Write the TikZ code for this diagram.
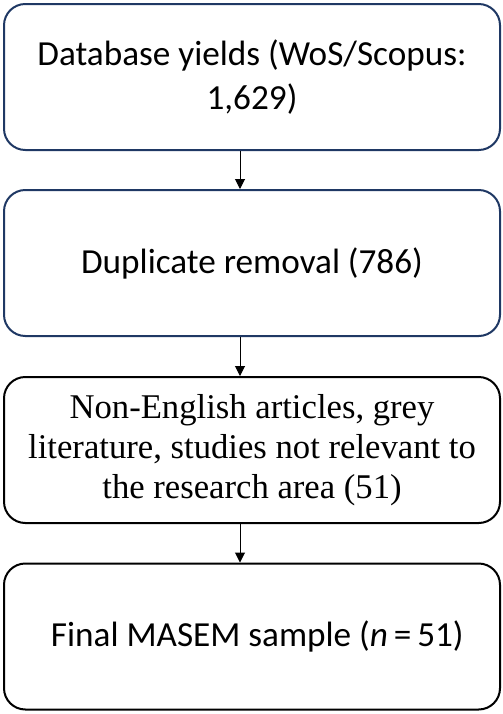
\documentclass[tikz,border=0pt]{standalone}
\usepackage{fontspec}
\setmainfont{Carlito}
\newfontfamily\timesfont{Liberation Serif}
\usepackage{xcolor}
\usetikzlibrary{arrows.meta}
\definecolor{boxnavy}{RGB}{31,56,100}
\tikzset{
  flowbox/.style={draw=#1, line width=1.5pt, rounded corners=16pt,
    minimum width=372pt, minimum height=109.5pt, align=center, inner sep=0pt,
    font=\fontsize{26.4}{32.5}\selectfont},
  flowbox/.default=black,
  flowarrow/.style={-{Triangle[length=7.5pt,width=7.5pt]}, line width=0.75pt}
}

\begin{document}
\begin{tikzpicture}[x=0.75pt,y=-0.75pt]
\useasboundingbox (0,0) rectangle (503,714);
\node[flowbox=boxnavy] (yield) at (252,77) {Database yields (WoS/Scopus:\\1,629)};
\node[flowbox=boxnavy] (dup) at (252,263) {Duplicate removal (786)};
\node[flowbox, font=\timesfont\fontsize{26}{30}\selectfont] (excl) at (252,450)
  {Non-English articles, grey\\literature, studies not relevant to\\the research area (51)};
\node[flowbox] (final) at (252,636.5) {\hspace{8pt}Final MASEM sample (\textit{n}\,=\,51)};
\draw[flowarrow] ([xshift=-9pt]yield.south) -- ([xshift=-9pt]dup.north);
\draw[flowarrow] ([xshift=-9pt]dup.south) -- ([xshift=-9pt]excl.north);
\draw[flowarrow] ([xshift=-9pt]excl.south) -- ([xshift=-9pt]final.north);
\end{tikzpicture}
\end{document}
